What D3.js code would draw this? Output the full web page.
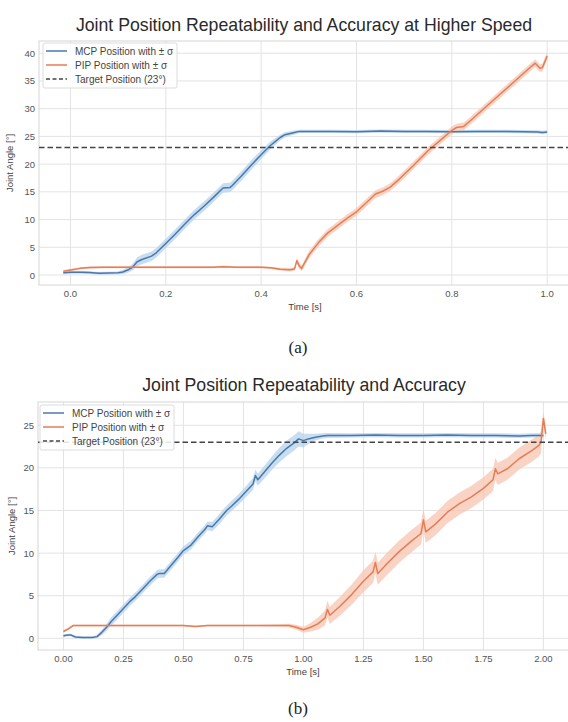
<!DOCTYPE html>
<html>
<head>
<meta charset="utf-8">
<script src="https://cdn.jsdelivr.net/npm/d3@7"></script>
<style>
  html, body { margin: 0; padding: 0; background: #fff; }
  svg { display: block; font-family: "Liberation Sans", Arial, sans-serif; }
</style>
</head>
<body>
<svg id="chart" width="568" height="722"></svg>
<script>
// ---- panel (a): higher speed ----
const aMcpTime = [-0.015, 0.0, 0.02, 0.04, 0.06, 0.08, 0.10, 0.11, 0.12, 0.13, 0.14, 0.15, 0.17, 0.18, 0.20, 0.22, 0.24, 0.26, 0.28, 0.30, 0.32, 0.335, 0.34, 0.36, 0.38, 0.40, 0.42, 0.43, 0.44, 0.45, 0.47, 0.48, 0.50, 0.55, 0.60, 0.65, 0.70, 0.75, 0.80, 0.85, 0.90, 0.95, 0.98, 0.99, 1.0];
const aMcpMean = [0.4, 0.5, 0.5, 0.45, 0.3, 0.35, 0.4, 0.55, 0.9, 1.4, 2.4, 2.8, 3.4, 4.0, 5.7, 7.4, 9.2, 10.9, 12.4, 14.0, 15.7, 15.8, 16.2, 18.0, 19.9, 21.7, 23.4, 24.1, 24.8, 25.3, 25.7, 25.9, 25.9, 25.9, 25.85, 25.95, 25.9, 25.9, 25.85, 25.9, 25.9, 25.85, 25.8, 25.7, 25.8];
const aMcpSd = [0.25, 0.25, 0.25, 0.25, 0.25, 0.25, 0.25, 0.35, 0.5, 0.6, 0.8, 0.85, 0.85, 0.85, 0.85, 0.85, 0.85, 0.85, 0.85, 0.85, 0.85, 0.85, 0.85, 0.85, 0.85, 0.8, 0.7, 0.6, 0.5, 0.45, 0.35, 0.3, 0.3, 0.3, 0.3, 0.3, 0.3, 0.3, 0.3, 0.3, 0.3, 0.3, 0.3, 0.3, 0.3];

const aPipTime = [-0.015, 0.0, 0.02, 0.04, 0.07, 0.10, 0.15, 0.20, 0.25, 0.30, 0.32, 0.35, 0.40, 0.42, 0.44, 0.46, 0.47, 0.475, 0.48, 0.485, 0.49, 0.50, 0.52, 0.54, 0.56, 0.58, 0.60, 0.62, 0.64, 0.655, 0.67, 0.69, 0.72, 0.75, 0.78, 0.80, 0.81, 0.825, 0.84, 0.87, 0.90, 0.93, 0.96, 0.975, 0.985, 0.99, 1.0];
const aPipMean = [0.7, 0.9, 1.2, 1.35, 1.4, 1.4, 1.4, 1.4, 1.4, 1.4, 1.5, 1.4, 1.4, 1.3, 1.05, 0.95, 1.1, 2.6, 1.6, 1.2, 2.0, 3.6, 5.8, 7.6, 8.9, 10.2, 11.4, 13.0, 14.6, 15.1, 15.8, 17.3, 19.8, 22.4, 24.6, 26.1, 26.6, 26.8, 27.9, 30.2, 32.5, 34.8, 37.1, 38.2, 37.3, 37.4, 39.5];
const aPipSd = [0.2, 0.2, 0.2, 0.2, 0.2, 0.2, 0.2, 0.2, 0.2, 0.2, 0.2, 0.2, 0.2, 0.2, 0.25, 0.3, 0.35, 0.5, 0.5, 0.5, 0.55, 0.65, 0.7, 0.7, 0.7, 0.7, 0.7, 0.7, 0.7, 0.7, 0.7, 0.7, 0.7, 0.7, 0.7, 0.7, 0.7, 0.7, 0.7, 0.7, 0.7, 0.7, 0.7, 0.7, 0.7, 0.7, 0.7];

// ---- panel (b): normal speed ----
const bMcpTime = [0, 0.02, 0.03, 0.05, 0.08, 0.12, 0.14, 0.16, 0.18, 0.20, 0.22, 0.25, 0.28, 0.30, 0.33, 0.36, 0.39, 0.40, 0.42, 0.45, 0.48, 0.50, 0.53, 0.56, 0.59, 0.60, 0.62, 0.65, 0.68, 0.70, 0.73, 0.76, 0.79, 0.80, 0.81, 0.84, 0.87, 0.90, 0.93, 0.96, 0.98, 1.0, 1.02, 1.05, 1.08, 1.10, 1.20, 1.30, 1.40, 1.50, 1.60, 1.70, 1.80, 1.90, 1.95, 2.0];
const bMcpMean = [0.3, 0.4, 0.4, 0.15, 0.1, 0.1, 0.2, 0.7, 1.3, 2.0, 2.6, 3.5, 4.4, 4.9, 5.8, 6.7, 7.5, 7.6, 7.6, 8.6, 9.6, 10.3, 10.9, 11.9, 12.8, 13.2, 13.1, 14.0, 15.0, 15.5, 16.3, 17.2, 18.1, 19.1, 18.6, 19.6, 20.6, 21.5, 22.3, 22.9, 23.4, 23.2, 23.4, 23.6, 23.75, 23.8, 23.8, 23.85, 23.8, 23.8, 23.85, 23.8, 23.8, 23.75, 23.8, 23.8];
const bMcpSd = [0.15, 0.15, 0.15, 0.15, 0.15, 0.15, 0.2, 0.3, 0.4, 0.5, 0.5, 0.5, 0.5, 0.5, 0.5, 0.5, 0.5, 0.5, 0.5, 0.5, 0.5, 0.5, 0.5, 0.5, 0.5, 0.5, 0.55, 0.6, 0.6, 0.6, 0.6, 0.65, 0.7, 0.7, 0.7, 0.75, 0.8, 0.85, 0.9, 0.9, 0.9, 0.8, 0.6, 0.4, 0.3, 0.3, 0.25, 0.25, 0.25, 0.25, 0.25, 0.25, 0.25, 0.25, 0.25, 0.25];

const bPipTime = [0, 0.02, 0.04, 0.06, 0.10, 0.20, 0.30, 0.40, 0.50, 0.55, 0.60, 0.70, 0.80, 0.90, 0.94, 0.97, 1.0, 1.03, 1.06, 1.09, 1.10, 1.11, 1.15, 1.20, 1.25, 1.29, 1.30, 1.31, 1.35, 1.40, 1.45, 1.49, 1.50, 1.51, 1.55, 1.60, 1.65, 1.70, 1.75, 1.79, 1.80, 1.81, 1.85, 1.90, 1.95, 1.98, 1.99, 2.0, 2.01];
const bPipMean = [0.8, 1.1, 1.5, 1.5, 1.5, 1.5, 1.5, 1.5, 1.5, 1.4, 1.5, 1.5, 1.5, 1.5, 1.5, 1.3, 1.0, 1.3, 1.7, 2.4, 3.4, 2.7, 3.7, 5.1, 6.7, 7.8, 8.9, 7.6, 8.8, 10.2, 11.4, 12.3, 13.9, 12.5, 13.4, 14.8, 15.8, 16.6, 17.6, 18.6, 19.9, 19.3, 19.9, 21.1, 22.0, 22.6, 23.0, 25.8, 24.0];
const bPipSd = [0.15, 0.15, 0.1, 0.1, 0.1, 0.1, 0.1, 0.1, 0.1, 0.1, 0.1, 0.1, 0.1, 0.15, 0.2, 0.3, 0.35, 0.5, 0.7, 0.9, 1.0, 1.0, 1.1, 1.2, 1.3, 1.3, 1.3, 1.3, 1.3, 1.3, 1.3, 1.3, 1.3, 1.3, 1.3, 1.3, 1.3, 1.3, 1.3, 1.3, 1.3, 1.3, 1.3, 1.3, 1.3, 1.3, 1.3, 0.8, 0.8];

const target = 23;
const legendLabels = ["MCP Position with \u00b1 \u03c3", "PIP Position with \u00b1 \u03c3", "Target Position (23\u00b0)"];

const aXTicks = [0.0, 0.2, 0.4, 0.6, 0.8, 1.0];
const aYTicks = [0, 5, 10, 15, 20, 25, 30, 35, 40];
const bXTicks = [0.0, 0.25, 0.5, 0.75, 1.0, 1.25, 1.5, 1.75, 2.0];
const bYTicks = [0, 5, 10, 15, 20, 25];

const mcpColor = "#4c78a8";
const mcpBand = "#b3d1ee";
const pipColor = "#e57d55";
const pipBand = "#f7c6b1";

const svg = d3.select("#chart");

const zip = (t, m, s) => t.map((d, i) => ({ t: d, m: m[i], s: s[i] }));

const drawPanel = (p) => {
  const x = d3.scaleLinear().domain(p.xDomain).range([p.left, p.right]);
  const y = d3.scaleLinear().domain(p.yDomain).range([p.bottom, p.top]);
  const g = svg.append("g");

  // clip to the axes box
  g.append("clipPath")
    .attr("id", p.id + "-clip")
    .append("rect")
    .attr("x", p.left)
    .attr("y", p.top)
    .attr("width", p.right - p.left)
    .attr("height", p.bottom - p.top);

  // grid
  g.append("g")
    .selectAll("line.gy")
    .data(p.yTicks)
    .enter()
    .append("line")
    .attr("x1", p.left)
    .attr("x2", p.right)
    .attr("y1", (d) => y(d))
    .attr("y2", (d) => y(d))
    .attr("stroke", "#e3e3e3")
    .attr("stroke-width", 1);
  g.append("g")
    .selectAll("line.gx")
    .data(p.xTicks)
    .enter()
    .append("line")
    .attr("x1", (d) => x(d))
    .attr("x2", (d) => x(d))
    .attr("y1", p.top)
    .attr("y2", p.bottom)
    .attr("stroke", "#e3e3e3")
    .attr("stroke-width", 1);

  // axes frame
  g.append("rect")
    .attr("x", p.left)
    .attr("y", p.top)
    .attr("width", p.right - p.left)
    .attr("height", p.bottom - p.top)
    .attr("fill", "none")
    .attr("stroke", "#d6d6d6");

  const plot = g.append("g").attr("clip-path", `url(#${p.id}-clip)`);

  const band = d3
    .area()
    .x((d) => x(d.t))
    .y0((d) => y(d.m - d.s))
    .y1((d) => y(d.m + d.s));
  const line = d3
    .line()
    .x((d) => x(d.t))
    .y((d) => y(d.m));

  p.series.forEach((s) => {
    plot.append("path").attr("d", band(s.data)).attr("fill", s.band).attr("opacity", 0.75);
  });
  p.series.forEach((s) => {
    plot
      .append("path")
      .attr("d", line(s.data))
      .attr("fill", "none")
      .attr("stroke", s.color)
      .attr("stroke-width", 1.5)
      .attr("stroke-linejoin", "round");
  });

  // target line
  plot
    .append("line")
    .attr("x1", p.left)
    .attr("x2", p.right)
    .attr("y1", y(target))
    .attr("y2", y(target))
    .attr("stroke", "#444")
    .attr("stroke-width", 1.5)
    .attr("stroke-dasharray", "5.5,3");

  // tick labels
  g.append("g")
    .selectAll("text")
    .data(p.xTicks)
    .enter()
    .append("text")
    .attr("x", (d) => x(d))
    .attr("y", p.bottom + 12)
    .attr("text-anchor", "middle")
    .attr("font-size", 9.5)
    .attr("fill", "#555")
    .text((d) => d3.format(p.xFmt)(d));
  g.append("g")
    .selectAll("text")
    .data(p.yTicks)
    .enter()
    .append("text")
    .attr("x", p.left - 4)
    .attr("y", (d) => y(d) + 3.5)
    .attr("text-anchor", "end")
    .attr("font-size", 9.5)
    .attr("fill", "#555")
    .text((d) => d);

  // axis labels
  g.append("text")
    .attr("x", p.xLabelX)
    .attr("y", p.bottom + 25)
    .attr("text-anchor", "middle")
    .attr("font-size", 9.5)
    .attr("fill", "#444")
    .text("Time [s]");
  g.append("text")
    .attr("transform", `translate(${p.yLabelX},${(p.top + p.bottom) / 2}) rotate(-90)`)
    .attr("text-anchor", "middle")
    .attr("font-size", 9.5)
    .attr("fill", "#444")
    .text("Joint Angle [\u00b0]");

  // title
  g.append("text")
    .attr("x", 304)
    .attr("y", p.titleY)
    .attr("text-anchor", "middle")
    .attr("font-size", 17.7)
    .attr("fill", "#2a2a2a")
    .text(p.title);

  // legend
  const lg = g.append("g");
  lg.append("rect")
    .attr("x", p.legend.x)
    .attr("y", p.legend.y)
    .attr("width", 134)
    .attr("height", 45)
    .attr("rx", 2)
    .attr("fill", "#fff")
    .attr("fill-opacity", 0.85)
    .attr("stroke", "#dcdcdc");
  const legendStyles = [
    { color: mcpColor, dash: null },
    { color: pipColor, dash: null },
    { color: "#444", dash: "4,2.5" },
  ];
  legendLabels.forEach((label, i) => {
    const ly = p.legend.y + 8 + i * 14;
    lg.append("line")
      .attr("x1", p.legend.x + 3)
      .attr("x2", p.legend.x + 24)
      .attr("y1", ly)
      .attr("y2", ly)
      .attr("stroke", legendStyles[i].color)
      .attr("stroke-width", 1.5)
      .attr("stroke-dasharray", legendStyles[i].dash);
    lg.append("text")
      .attr("x", p.legend.x + 32)
      .attr("y", ly + 3.5)
      .attr("font-size", 10)
      .attr("fill", "#444")
      .text(label);
  });

  // caption
  svg
    .append("text")
    .attr("x", 298)
    .attr("y", p.captionY)
    .attr("text-anchor", "middle")
    .attr("font-family", "'Liberation Serif', 'Times New Roman', serif")
    .attr("font-size", 17)
    .attr("fill", "#222")
    .text(p.caption);
};

drawPanel({
  id: "a",
  title: "Joint Position Repeatability and Accuracy at Higher Speed",
  titleY: 31,
  left: 39,
  right: 571,
  top: 41,
  bottom: 285,
  xDomain: [-0.066, 1.05],
  yDomain: [-1.8, 42.2],
  xTicks: aXTicks,
  yTicks: aYTicks,
  xFmt: ".1f",
  xLabelX: 305,
  yLabelX: 13,
  legend: { x: 43, y: 43 },
  captionY: 353,
  caption: "(a)",
  series: [
    { data: zip(aMcpTime, aMcpMean, aMcpSd), color: mcpColor, band: mcpBand },
    { data: zip(aPipTime, aPipMean, aPipSd), color: pipColor, band: pipBand },
  ],
});

drawPanel({
  id: "b",
  title: "Joint Position Repeatability and Accuracy",
  titleY: 391,
  left: 38,
  right: 571,
  top: 402,
  bottom: 650,
  xDomain: [-0.106, 2.115],
  yDomain: [-1.37, 27.73],
  xTicks: bXTicks,
  yTicks: bYTicks,
  xFmt: ".2f",
  xLabelX: 303,
  yLabelX: 15,
  legend: { x: 40, y: 405 },
  captionY: 714,
  caption: "(b)",
  series: [
    { data: zip(bMcpTime, bMcpMean, bMcpSd), color: mcpColor, band: mcpBand },
    { data: zip(bPipTime, bPipMean, bPipSd), color: pipColor, band: pipBand },
  ],
});
</script>
</body>
</html>
